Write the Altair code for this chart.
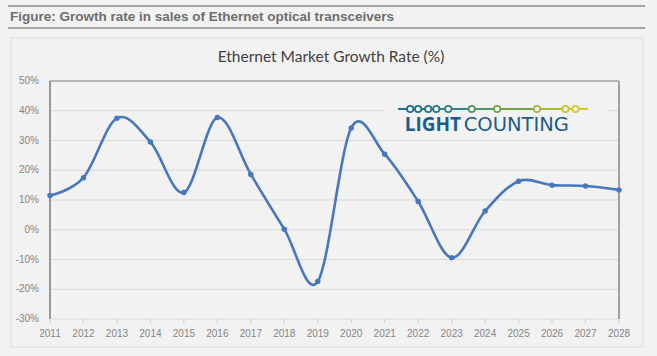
import altair as alt
import pandas as pd

# ---- data ----
years = list(range(2011, 2029))
growth = [11.5, 17.5, 37.5, 29.5, 12.5, 37.7, 18.6, 0.2, -17.4, 34.2, 25.4, 9.5, -9.4, 6.3, 16.3, 15.0, 14.7, 13.4]
y_ticks = [-30, -20, -10, 0, 10, 20, 30, 40, 50]
y_labels = ["-30%", "-20%", "-10%", "0%", "10%", "20%", "30%", "40%", "50%"]
x_labels = [str(y) for y in years]

fig_title = ["Figure: Growth rate in sales of Ethernet optical transceivers"]
chart_title = ["Ethernet Market Growth Rate (%)"]

# logo (decorative), in data units
logo_line_x = [2021.40, 2027.08]
logo_circle_x = [2021.76, 2022.00, 2022.30, 2022.54, 2022.90, 2023.60, 2024.36, 2025.55, 2026.40, 2026.70]
logo_circle_c = ["#1f6e94", "#1f7290", "#23778a", "#277b86", "#2f8380", "#4d9560", "#72a64a", "#a8b83a", "#cfc52f", "#dcc82c"]
logo_word_1 = ["LIGHT"]
logo_word_2 = ["COUNTING"]

BG = "#f2f2f2"
W, H = 569, 238
PL, PT = 50, 81
LABEL_C = "#858585"

df = pd.DataFrame({"year": years, "growth": growth})

xscale = alt.Scale(domain=[2011, 2028], nice=False, zero=False)
yscale = alt.Scale(domain=[-30, 50], nice=False, zero=False)
X = alt.X("year:Q", scale=xscale, axis=None)
Y = alt.Y("growth:Q", scale=yscale, axis=None)

one = pd.DataFrame({"a": [0]})

# frame pieces (pixel layout)
box = alt.Chart(one).mark_rect(fill=None, stroke="#dcdcdc", strokeWidth=1).encode(
    x=alt.value(11 - PL), x2=alt.value(643 - PL), y=alt.value(38 - PT), y2=alt.value(347 - PT))
line_top = alt.Chart(one).mark_rule(color="#a6a6a6", strokeWidth=2).encode(
    x=alt.value(8 - PL), x2=alt.value(645 - PL), y=alt.value(6 - PT))
line_mid = alt.Chart(one).mark_rule(color="#a6a6a6", strokeWidth=2).encode(
    x=alt.value(8 - PL), x2=alt.value(645 - PL), y=alt.value(28 - PT))

t1 = alt.Chart(pd.DataFrame({"t": fig_title})).mark_text(
    align="left", baseline="alphabetic", font="Liberation Sans", fontSize=13.5, fontWeight="bold", color="#6e6e6e"
).encode(text="t:N", x=alt.value(10 - PL), y=alt.value(21 - PT))
t2 = alt.Chart(pd.DataFrame({"t": chart_title})).mark_text(
    align="center", baseline="middle", font="Lato", fontSize=15.5, color="#404040"
).encode(text="t:N", x=alt.value(331 - PL), y=alt.value(57 - PT))

# axes built from the tick arrays
grid = alt.Chart(pd.DataFrame({"growth": y_ticks})).mark_rule(color="#d9d9d9", strokeWidth=1).encode(
    y=Y, x=alt.value(0), x2=alt.value(W))
ylab = alt.Chart(pd.DataFrame({"growth": y_ticks, "t": y_labels})).mark_text(
    align="right", baseline="middle", font="Liberation Sans", fontSize=10, color=LABEL_C
).encode(y=Y, x=alt.value(-11), text="t:N")
xtick = alt.Chart(pd.DataFrame({"year": years})).mark_rule(color="#cdcdcd", strokeWidth=1).encode(
    x=X, y=alt.value(H), y2=alt.value(H + 4))
xlab = alt.Chart(pd.DataFrame({"year": years, "t": x_labels})).mark_text(
    align="center", baseline="top", font="Liberation Sans", fontSize=10, color=LABEL_C
).encode(x=X, y=alt.value(H + 10), text="t:N")
yaxis_line = alt.Chart(one).mark_rule(color="#7a7a7a", strokeWidth=1.5).encode(
    x=alt.value(0), y=alt.value(0), y2=alt.value(H))
border_top = alt.Chart(one).mark_rule(color="#a6a6a6", strokeWidth=1.6).encode(
    x=alt.value(0), x2=alt.value(W), y=alt.value(0))
border_right = alt.Chart(one).mark_rule(color="#a0a0a0", strokeWidth=2).encode(
    x=alt.value(W), y=alt.value(0), y2=alt.value(H))

base = alt.Chart(df)
line = base.mark_line(interpolate="cardinal", tension=0, color="#4677bf", strokeWidth=2.6).encode(x=X, y=Y)
pts = base.mark_point(filled=True, shape="circle", size=30, color="#4677bf", opacity=1).encode(x=X, y=Y)

# logo
logo_bg = alt.Chart(pd.DataFrame({"year": [2020.95], "year2": [2027.68], "growth": [45.5], "growth2": [31.5]})
                    ).mark_rect(fill=BG).encode(x=X, x2="year2:Q", y=Y, y2="growth2:Q")
seg_x = [logo_line_x[0]] + logo_circle_x
seg_x2 = logo_circle_x + [logo_line_x[1]]
seg_c = [logo_circle_c[0]] + logo_circle_c
segs = pd.DataFrame({"year": seg_x, "year2": seg_x2, "c": seg_c, "growth": [40.6] * len(seg_x)})
logo_line = alt.Chart(segs).mark_rule(strokeWidth=2).encode(
    x=X, x2="year2:Q", y=Y, color=alt.Color("c:N", scale=None))
circ = pd.DataFrame({"year": logo_circle_x, "c": logo_circle_c, "growth": [40.6] * len(logo_circle_x)})
logo_circ = alt.Chart(circ).mark_point(shape="circle", filled=True, fill=BG, size=40, strokeWidth=1.8, opacity=1).encode(
    x=X, y=Y, stroke=alt.Stroke("c:N", scale=None))
w1 = alt.Chart(pd.DataFrame({"t": logo_word_1, "year": [2021.60], "growth": [33.2]})).mark_text(
    align="left", baseline="alphabetic", font="Open Sans", fontSize=19, fontWeight="bold", color="#1d5c8c"
).encode(text="t:N", x=X, y=Y)
w2 = alt.Chart(pd.DataFrame({"t": logo_word_2, "year": [2023.36], "growth": [33.2]})).mark_text(
    align="left", baseline="alphabetic", font="DejaVu Sans", fontSize=19.5, color="#1d5c8c"
).encode(text="t:N", x=X, y=Y)

chart = alt.layer(
    box, line_top, line_mid, t1, t2,
    grid, xtick, ylab, xlab,
    logo_bg, logo_line, logo_circ, w1, w2,
    border_top, border_right, yaxis_line, line, pts,
).properties(
    width=W, height=H,
    autosize=alt.AutoSizeParams(type="none"),
    padding={"left": PL, "top": PT, "right": 657 - PL - W, "bottom": 356 - PT - H},
    background=BG,
).configure_view(stroke=None)

chart.save("out.html", embed_options={"renderer": "svg", "actions": False})
